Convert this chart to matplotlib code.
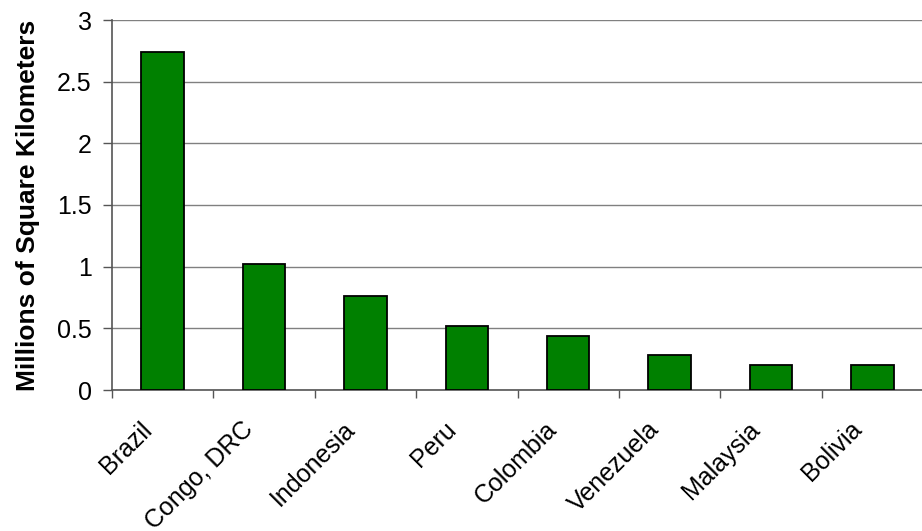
import matplotlib
matplotlib.use("Agg")
import matplotlib.pyplot as plt
import matplotlib.transforms as mtransforms
import numpy as np

countries = ["Brazil", "Congo, DRC", "Indonesia", "Peru", "Colombia",
             "Venezuela", "Malaysia", "Bolivia"]
values = [2.74, 1.02, 0.76, 0.52, 0.44, 0.28, 0.20, 0.20]
yticks = [0, 0.5, 1, 1.5, 2, 2.5, 3]
ytick_labels = ["0", "0.5", "1", "1.5", "2", "2.5", "3"]

plt.rcParams['font.family'] = ['Liberation Sans', 'DejaVu Sans']

fig = plt.figure(figsize=(9.22, 5.31), dpi=100)
ax = fig.add_axes([112/922, 1-390/531, 811/922, (390-20)/531])

x = np.arange(len(countries))
ax.bar(x, values, width=0.42, color="#008000", edgecolor="black",
       linewidth=1.3, zorder=3)

ax.set_xlim(-0.5, len(countries) - 0.5)
ax.set_ylim(0, 3)
ax.set_yticks(yticks)
ax.set_yticklabels(ytick_labels, fontsize=18)
ax.yaxis.grid(True, color="#808080", linewidth=1.0, zorder=0)
ax.set_axisbelow(True)

ax.set_xticks(x)
ax.set_xticklabels(countries, fontsize=18, rotation=45, ha="right",
                   va="top", rotation_mode="anchor")
ax.tick_params(axis="x", which="major", length=0, pad=19.5)
offset = mtransforms.ScaledTranslation(-23/100, 0, fig.dpi_scale_trans)
for lbl in ax.get_xticklabels():
    lbl.set_transform(lbl.get_transform() + offset)
ax.set_xticks(np.arange(len(countries) + 1) - 0.5, minor=True)
ax.tick_params(axis="x", which="minor", length=5.5, width=1.0, color="#555555",
               direction="out")
ax.tick_params(axis="y", length=6.5, width=1.0, color="#555555",
               direction="out", pad=8)

for s in ["top", "right"]:
    ax.spines[s].set_visible(False)
for s in ["left", "bottom"]:
    ax.spines[s].set_color("#555555")
    ax.spines[s].set_linewidth(1.2)

ax.set_ylabel("Millions of Square Kilometers", fontsize=19, fontweight="bold",
              labelpad=12)

fig.savefig("out.png", dpi=100)
